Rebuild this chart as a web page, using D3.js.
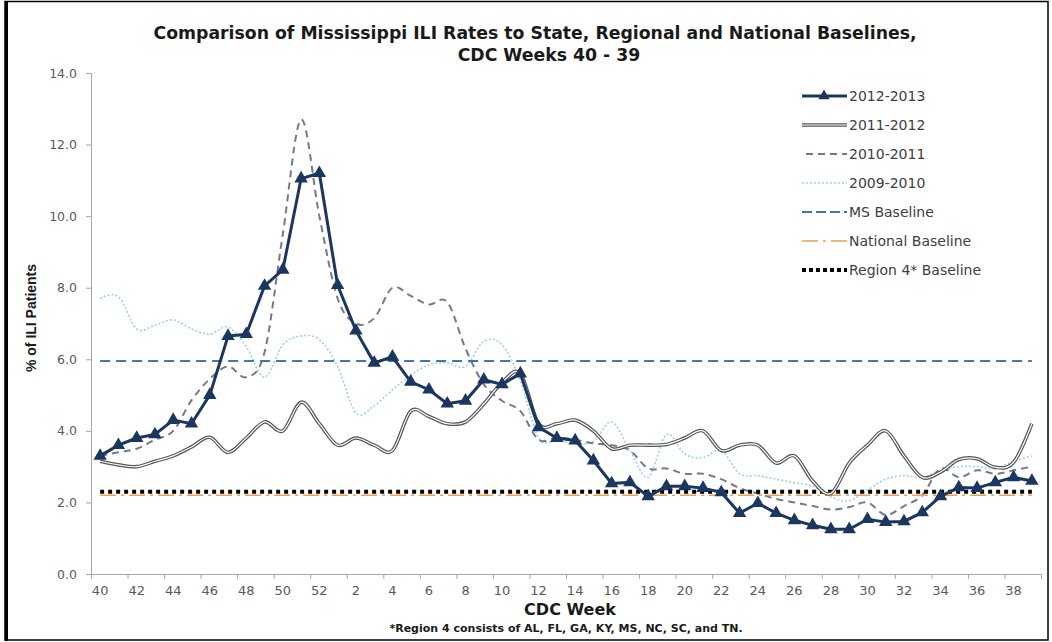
<!DOCTYPE html>
<html>
<head>
<meta charset="utf-8">
<script src="https://cdn.jsdelivr.net/npm/d3@7"></script>
<style>
	body { margin: 0; background: #fff; }
	svg { display: block; }
</style>
</head>
<body>
<svg id="chart" width="1052" height="642"></svg>
<script>
// CDC weeks, season runs 40 -> 52 then 1 -> 39
const weeks = ["40", "41", "42", "43", "44", "45", "46", "47", "48", "49", "50", "51", "52",
	"1", "2", "3", "4", "5", "6", "7", "8", "9", "10", "11", "12", "13", "14", "15", "16", "17",
	"18", "19", "20", "21", "22", "23", "24", "25", "26", "27", "28", "29", "30", "31", "32", "33",
	"34", "35", "36", "37", "38", "39"];

const season2012 = [3.3, 3.6, 3.8, 3.9, 4.3, 4.2, 5.0, 6.65, 6.7, 8.05, 8.5, 11.05, 11.2,
	8.07, 6.8, 5.9, 6.07, 5.37, 5.15, 4.76, 4.84, 5.43, 5.3, 5.6, 4.1, 3.8, 3.73, 3.17, 2.53, 2.56,
	2.17, 2.45, 2.45, 2.4, 2.28, 1.7, 1.98, 1.7, 1.5, 1.36, 1.25, 1.25, 1.53, 1.45, 1.47, 1.72,
	2.17, 2.42, 2.4, 2.56, 2.7, 2.6];
const season2011 = [3.15, 3.05, 3.0, 3.15, 3.3, 3.55, 3.82, 3.4, 3.8, 4.25, 4.0, 4.8, 4.2,
	3.6, 3.8, 3.6, 3.45, 4.55, 4.4, 4.2, 4.25, 4.75, 5.35, 5.6, 4.2, 4.2, 4.3, 4.0, 3.5, 3.6,
	3.6, 3.62, 3.8, 4.0, 3.45, 3.6, 3.6, 3.1, 3.3, 2.6, 2.25, 3.1, 3.6, 4.0, 3.3, 2.7,
	2.85, 3.2, 3.22, 2.98, 3.12, 4.2];
const season2010 = [3.3, 3.4, 3.5, 3.75, 4.0, 4.85, 5.45, 5.8, 5.5, 6.2, 9.5, 12.7, 10.0,
	7.7, 7.0, 7.15, 8.0, 7.77, 7.53, 7.6, 6.3, 5.3, 4.84, 4.55, 3.75, 3.82, 3.75, 3.65, 3.6, 3.45,
	2.95, 2.95, 2.8, 2.8, 2.65, 2.4, 2.25, 2.1, 2.0, 1.9, 1.8, 1.87, 2.0, 1.65, 1.9, 2.2,
	2.95, 2.7, 2.9, 2.8, 2.9, 3.0];
const season2009 = [7.7, 7.75, 6.85, 6.95, 7.1, 6.85, 6.7, 6.9, 6.35, 5.5, 6.4, 6.65, 6.55,
	5.8, 4.5, 4.7, 5.15, 5.55, 5.85, 5.9, 5.8, 6.5, 6.4, 5.4, 3.8, 3.73, 3.65, 3.7, 4.25, 3.45,
	2.7, 3.9, 3.35, 3.25, 3.45, 2.8, 2.75, 2.65, 2.55, 2.45, 2.15, 2.05, 2.35, 2.65, 2.75, 2.7,
	2.9, 3.0, 3.0, 2.95, 3.15, 3.3];

const msBaseline = 5.95;
const nationalBaseline = 2.2;
const region4Baseline = 2.3;

const yTicks = [0, 2, 4, 6, 8, 10, 12, 14];

const svg = d3.select("#chart");
const plotLeft = 91, plotRight = 1041, plotTop = 73, plotBottom = 574;

const x = d3.scaleBand().domain(weeks).range([plotLeft, plotRight]).padding(0);
const xEdge = d3.scaleLinear().domain([0, weeks.length]).range([plotLeft, plotRight]);
const y = d3.scaleLinear().domain([0, 14]).range([plotBottom, plotTop]);
const cx = (w) => x(w) + x.bandwidth() / 2;

// outer frame
svg.append("rect")
	.attr("x", 5).attr("y", 1.5).attr("width", 1043).attr("height", 638.5)
	.attr("fill", "none").attr("stroke", "#000").attr("stroke-width", 1.5);
svg.append("line")
	.attr("x1", 6.5).attr("x2", 6.5).attr("y1", 1).attr("y2", 641)
	.attr("stroke", "#000").attr("stroke-width", 3);

// title
const title = svg.append("text")
	.attr("text-anchor", "middle")
	.attr("font-family", "DejaVu Sans, sans-serif")
	.attr("font-weight", "bold")
	.attr("font-size", "17.3px")
	.attr("fill", "#1a1a1a");
title.append("tspan").attr("x", 535).attr("y", 39)
	.text("Comparison of Mississippi ILI Rates to State, Regional and National Baselines,");
title.append("tspan").attr("x", 549).attr("y", 61).text("CDC Weeks 40 - 39");

// axes
const yAxis = svg.append("g")
	.attr("transform", `translate(${plotLeft},0)`)
	.call(d3.axisLeft(y).tickValues(yTicks).tickFormat(d3.format(".1f")).tickSize(5).tickPadding(9));
yAxis.selectAll("text")
	.attr("font-family", "DejaVu Sans, sans-serif").attr("font-size", "12.5px").attr("fill", "#595959");

svg.append("g")
	.attr("transform", `translate(0,${plotBottom})`)
	.call(d3.axisBottom(xEdge).tickValues(d3.range(0, weeks.length + 1, 2)).tickFormat("").tickSize(5));

const xAxis = svg.append("g")
	.attr("transform", `translate(0,${plotBottom})`)
	.call(d3.axisBottom(x).tickValues(weeks.filter((_w, i) => i % 2 === 0)).tickSize(0).tickPadding(12));
xAxis.select(".domain").remove();
xAxis.selectAll("text")
	.attr("font-family", "DejaVu Sans, sans-serif").attr("font-size", "13px").attr("fill", "#595959");

svg.selectAll(".domain, .tick line").attr("stroke", "#a6a6a6");

// axis titles
svg.append("text")
	.attr("x", 570).attr("y", 615)
	.attr("text-anchor", "middle")
	.attr("font-family", "DejaVu Sans, sans-serif").attr("font-weight", "bold").attr("font-size", "16px")
	.attr("fill", "#1a1a1a")
	.text("CDC Week");
svg.append("text")
	.attr("x", 566).attr("y", 632)
	.attr("text-anchor", "middle")
	.attr("font-family", "DejaVu Sans, sans-serif").attr("font-weight", "bold").attr("font-size", "11px")
	.attr("fill", "#1a1a1a")
	.text("*Region 4 consists of AL, FL, GA, KY, MS, NC, SC, and TN.");
svg.append("text")
	.attr("transform", "translate(36,318) rotate(-90)")
	.attr("text-anchor", "middle")
	.attr("font-family", "Liberation Sans, Arial, sans-serif").attr("font-weight", "bold").attr("font-size", "14px")
	.attr("fill", "#1a1a1a")
	.text("% of ILI Patients");

// series
const smooth = d3.line().x((d) => cx(d.w)).y((d) => y(d.v)).curve(d3.curveCardinal.tension(0));
const straight = d3.line().x((d) => cx(d.w)).y((d) => y(d.v));
const toPoints = (vals) => vals.map((v, i) => ({ w: weeks[i], v: v }));
const flat = (v) => weeks.map((w) => ({ w: w, v: v }));

const plot = svg.append("g");

plot.append("path").attr("d", smooth(toPoints(season2009)))
	.attr("fill", "none").attr("stroke", "#9ad3df").attr("stroke-width", 1.6).attr("stroke-dasharray", "2,2");
plot.append("path").attr("d", smooth(toPoints(season2010)))
	.attr("fill", "none").attr("stroke", "#77788e").attr("stroke-width", 2).attr("stroke-dasharray", "7,5");
plot.append("path").attr("d", straight(flat(msBaseline)))
	.attr("fill", "none").attr("stroke", "#4676a6").attr("stroke-width", 2).attr("stroke-dasharray", "10,6");
plot.append("path").attr("d", straight(flat(nationalBaseline)))
	.attr("fill", "none").attr("stroke", "#f0a050").attr("stroke-width", 1.6).attr("stroke-dasharray", "16,5,3,5");
plot.append("path").attr("d", straight(flat(region4Baseline)))
	.attr("fill", "none").attr("stroke", "#000").attr("stroke-width", 4).attr("stroke-dasharray", "4,4");
plot.append("path").attr("d", smooth(toPoints(season2011)))
	.attr("fill", "none").attr("stroke", "#555").attr("stroke-width", 3.6);
plot.append("path").attr("d", smooth(toPoints(season2011)))
	.attr("fill", "none").attr("stroke", "#fff").attr("stroke-width", 1.2);
plot.append("path").attr("d", straight(toPoints(season2012)))
	.attr("fill", "none").attr("stroke", "#1b365f").attr("stroke-width", 3);
plot.selectAll(".tri")
	.data(toPoints(season2012))
	.enter()
	.append("path")
	.attr("class", "tri")
	.attr("transform", (d) => `translate(${cx(d.w)},${y(d.v)})`)
	.attr("d", d3.symbol().type(d3.symbolTriangle).size(78))
	.attr("fill", "#1b365f");

// legend
const legendNames = ["2012-2013", "2011-2012", "2010-2011", "2009-2010", "MS Baseline", "National Baseline", "Region 4* Baseline"];
const legend = svg.append("g").attr("transform", "translate(802,96)");
const rowH = 29;
legendNames.forEach((name, i) => {
	const row = legend.append("g").attr("transform", `translate(0,${i * rowH})`);
	const seg = (stroke, width, dash) => row.append("line")
		.attr("x1", 0).attr("x2", 45).attr("y1", 0).attr("y2", 0)
		.attr("stroke", stroke).attr("stroke-width", width).attr("stroke-dasharray", dash);
	if (i === 0) {
		seg("#1b365f", 3, null);
		row.append("path").attr("transform", "translate(22,0)")
			.attr("d", d3.symbol().type(d3.symbolTriangle).size(55)).attr("fill", "#1b365f");
	} else if (i === 1) {
		seg("#555", 3.6, null);
		seg("#fff", 1.2, null);
	} else if (i === 2) {
		row.append("line").attr("x1", 4).attr("x2", 45).attr("y1", 0).attr("y2", 0)
			.attr("stroke", "#77788e").attr("stroke-width", 2).attr("stroke-dasharray", "7,5");
	} else if (i === 3) {
		seg("#9ad3df", 1.6, "2,2");
	} else if (i === 4) {
		seg("#4676a6", 2, "10,4");
	} else if (i === 5) {
		seg("#f0a050", 1.6, "16,5,3,5");
	} else {
		seg("#000", 4, "4,3");
	}
	row.append("text")
		.attr("x", 47).attr("y", 5)
		.attr("font-family", "DejaVu Sans, sans-serif").attr("font-size", "14px").attr("fill", "#404040")
		.text(name);
});
</script>
</body>
</html>
